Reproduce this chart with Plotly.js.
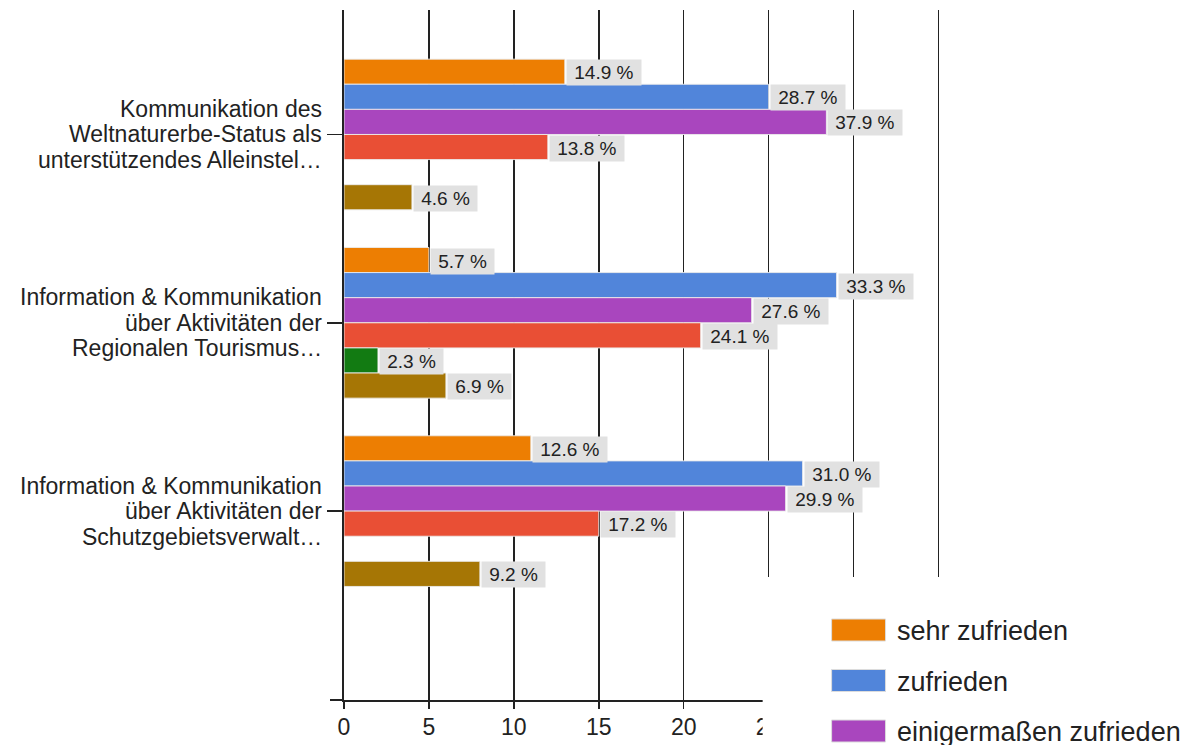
<!DOCTYPE html>
<html>
<head>
<meta charset="utf-8">
<script src="https://cdn.plot.ly/plotly-3.0.1.min.js"></script>
<style>
  html, body { margin: 0; padding: 0; background: #ffffff; }
  #chart { width: 1196px; height: 745px; }
</style>
</head>
<body>
<div id="chart"></div>
<script>
// ---------- data ----------
var categories = [
  "Kommunikation des<br>Weltnaturerbe-Status als<br>unterstützendes Alleinstel…",
  "Information & Kommunikation<br>über Aktivitäten der<br>Regionalen Tourismus…",
  "Information & Kommunikation<br>über Aktivitäten der<br>Schutzgebietsverwalt…"
];
var seriesNames = ["sehr zufrieden", "zufrieden", "einigermaßen zufrieden",
                   "weniger zufrieden", "unzufrieden", "keine Angabe"];
var seriesColors = ["#ED7E02", "#5185DA", "#A946BE", "#E94F35", "#127B12", "#A67605"];

var sehrZufrieden      = [13, 5, 11];
var zufrieden          = [25, 29, 27];
var einigermassen      = [28.4, 24, 26];
var wenigerZufrieden   = [12, 21, 15];
var unzufrieden        = [null, 2, null];
var keineAngabe        = [4, 6, 8];

var sehrZufriedenPct    = ["14.9 %", "5.7 %", "12.6 %"];
var zufriedenPct        = ["28.7 %", "33.3 %", "31.0 %"];
var einigermassenPct    = ["37.9 %", "27.6 %", "29.9 %"];
var wenigerZufriedenPct = ["13.8 %", "24.1 %", "17.2 %"];
var unzufriedenPct      = [null, "2.3 %", null];
var keineAngabePct      = ["4.6 %", "6.9 %", "9.2 %"];

var xTickVals = [0, 5, 10, 15, 20, 25, 30, 35];

// ---------- build ----------
var values = [sehrZufrieden, zufrieden, einigermassen, wenigerZufrieden, unzufrieden, keineAngabe];
var pcts = [sehrZufriedenPct, zufriedenPct, einigermassenPct, wenigerZufriedenPct, unzufriedenPct, keineAngabePct];

var FONT = "Liberation Sans, Arial, sans-serif";
var BARGAP = 0.2;
var nS = values.length;
var slot = (1 - BARGAP) / nS;

var traces = values.map(function (v, i) {
  return {
    type: "bar",
    orientation: "h",
    name: seriesNames[i],
    y: categories,
    x: v,
    marker: { color: seriesColors[i], line: { color: "rgba(235,235,235,0.9)", width: 1 } },
    hoverinfo: "skip",
    showlegend: false
  };
});

// pixel helpers for layout decorations
var L = 344, T = 10, PW = 603.5, PH = 690;
function px(p) { return (p - L) / PW; }
function py(p) { return (T + PH - p) / PH; }

var annotations = [];
// value labels
values.forEach(function (v, i) {
  v.forEach(function (val, c) {
    if (val === null || pcts[i][c] === null) return;
    annotations.push({
      x: val, xref: "x",
      y: c + (i - (nS - 1) / 2) * slot, yref: "y",
      xanchor: "left", yanchor: "middle", xshift: 1, yshift: -1,
      text: "\u00a0" + pcts[i][c] + "\u00a0",
      showarrow: false,
      bgcolor: "#e1e1e1",
      borderpad: 2,
      font: { family: FONT, size: 19, color: "#222222" }
    });
  });
});

// category labels (one annotation per line, tight line pitch)
var LINE_PITCH = 25.5;
categories.forEach(function (cat, c) {
  var lines = cat.split("<br>");
  lines.forEach(function (ln, j) {
    annotations.push({
      x: px(324), xref: "paper", y: c, yref: "y",
      xanchor: "right", yanchor: "middle",
      yshift: ((lines.length - 1) / 2 - j) * LINE_PITCH,
      text: ln, showarrow: false,
      font: { family: FONT, size: 23, color: "#222222" }
    });
  });
});

var shapes = [
  // little extension of the x axis line left of the y axis
  { type: "line", xref: "paper", yref: "paper", x0: px(330), x1: 0, y0: 0, y1: 0,
    line: { color: "#222222", width: 2 }, layer: "above" },
  // white panel behind legend
  { type: "rect", xref: "paper", yref: "paper", x0: px(763), x1: px(1200), y0: py(577), y1: py(760),
    fillcolor: "#ffffff", line: { width: 0 }, layer: "above" }
];

// custom legend (large swatches); only entries that fall inside the page
seriesNames.forEach(function (n, i) {
  var cy = 630 + 50.5 * i;
  if (cy > 745) return;
  shapes.push({ type: "rect", xref: "paper", yref: "paper",
    x0: px(832), x1: px(886), y0: py(cy + 11), y1: py(cy - 11),
    fillcolor: seriesColors[i], line: { color: "#dcdcdc", width: 1 }, layer: "above" });
  annotations.push({ xref: "paper", yref: "paper", x: px(895), y: py(cy + 1),
    xanchor: "left", yanchor: "middle", text: n, showarrow: false,
    font: { family: FONT, size: 27, color: "#222222" } });
});

var layout = {
  width: 1196, height: 745,
  margin: { l: L, r: 1196 - L - PW, t: T, b: 745 - T - PH, pad: 0 },
  paper_bgcolor: "#ffffff", plot_bgcolor: "#ffffff",
  barmode: "group", bargap: BARGAP, bargroupgap: 0,
  showlegend: false,
  xaxis: {
    range: [0, 35.5],
    tickvals: xTickVals,
    ticks: "outside", ticklen: 7, tickwidth: 1.5, tickcolor: "#222222",
    ticklabelstandoff: -2,
    showgrid: true, gridcolor: "#222222", gridwidth: 1.5,
    zeroline: false,
    showline: true, linecolor: "#222222", linewidth: 2,
    tickfont: { family: "Liberation Sans Narrow, Liberation Sans, Arial, sans-serif", size: 23, color: "#222222" },
    fixedrange: true
  },
  yaxis: {
    type: "category",
    range: [3.003, -0.661],
    ticks: "outside", ticklen: 15, tickwidth: 1.5, tickcolor: "#222222",
    showticklabels: false,
    showgrid: false, zeroline: false,
    showline: true, linecolor: "#222222", linewidth: 2,
    fixedrange: true
  },
  shapes: shapes,
  annotations: annotations
};

Plotly.newPlot("chart", traces, layout, { displayModeBar: false, staticPlot: true });
</script>
</body>
</html>
